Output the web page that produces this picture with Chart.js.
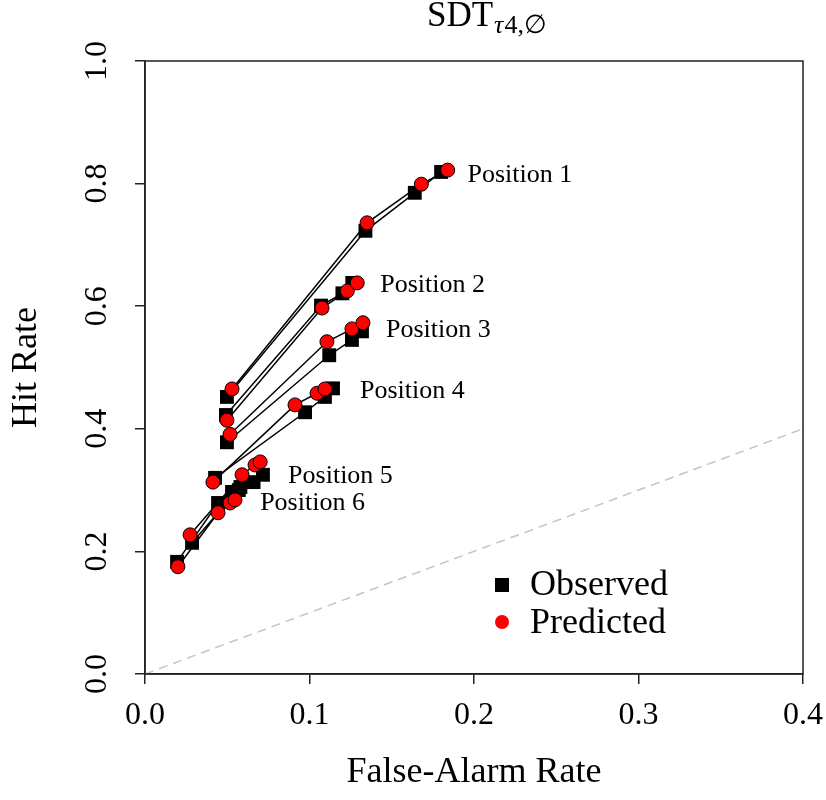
<!DOCTYPE html>
<html>
<head>
<meta charset="utf-8">
<script src="https://cdn.jsdelivr.net/npm/chart.js@4.4.0/dist/chart.umd.min.js"></script>
<style>
  html, body { margin: 0; padding: 0; background: #fff; }
  #canvasDiv { width: 826px; height: 800px; }
</style>
</head>
<body>
<div id="canvasDiv"><canvas id="myChart" width="826" height="800"></canvas></div>
<script>
// labels for every ROC curve
const positions = ['Position 1', 'Position 2', 'Position 3', 'Position 4', 'Position 5', 'Position 6'];

// observed points (false-alarm rate / hit rate), one row per position
const observedFA = [
    [0.0498, 0.134, 0.164, 0.180],
    [0.0492, 0.107, 0.120, 0.126],
    [0.0498, 0.112, 0.1258, 0.1319],
    [0.0426, 0.0973, 0.1094, 0.1143],
    [0.0286, 0.058, 0.066, 0.0717],
    [0.0195, 0.0444, 0.0529, 0.057]
];
const observedHit = [
    [0.452, 0.723, 0.785, 0.819],
    [0.4225, 0.601, 0.621, 0.638],
    [0.378, 0.520, 0.545, 0.559],
    [0.320, 0.427, 0.452, 0.466],
    [0.214, 0.305, 0.313, 0.325],
    [0.183, 0.279, 0.297, 0.300]
];

// model predictions, same layout
const predictedFA = [
    [0.0529, 0.135, 0.168, 0.184],
    [0.0498, 0.1076, 0.123, 0.129],
    [0.0517, 0.1106, 0.1258, 0.1325],
    [0.0413, 0.0912, 0.1046, 0.1094],
    [0.0274, 0.059, 0.0669, 0.070],
    [0.020, 0.0444, 0.0517, 0.0547]
];
const predictedHit = [
    [0.465, 0.736, 0.799, 0.822],
    [0.414, 0.597, 0.625, 0.638],
    [0.391, 0.542, 0.563, 0.573],
    [0.313, 0.439, 0.458, 0.465],
    [0.227, 0.325, 0.341, 0.346],
    [0.175, 0.263, 0.279, 0.284]
];

// where the position names sit (data units, left edge / middle)
const labelFA = [0.196, 0.143, 0.1465, 0.1307, 0.087, 0.070];
const labelHit = [0.814, 0.635, 0.561, 0.462, 0.323, 0.279];

// chance line
const chanceFA = [0, 0.4];
const chanceHit = [0, 0.4];

const xTicks = [0, 0.1, 0.2, 0.3, 0.4];
const yTicks = [0, 0.2, 0.4, 0.6, 0.8, 1.0];

const serif = "'Liberation Serif', 'DejaVu Serif', serif";

function toPoints(xs, ys) {
    return xs.map((x, i) => ({ x: x, y: ys[i] }));
}

let datasets = [];

//dashed diagonal
datasets.push({
    data: toPoints(chanceFA, chanceHit),
    showLine: true,
    borderColor: '#c4c4c4',
    borderWidth: 1.5,
    borderDash: [9, 6],
    pointRadius: 0,
    order: 10
});

//lines first (drawn under every marker), then squares, then circles
for (let i = 0; i < positions.length; i++) {
    datasets.push({
        data: toPoints(observedFA[i], observedHit[i]),
        showLine: true,
        borderColor: '#000',
        borderWidth: 1.5,
        pointRadius: 0,
        order: 5
    });
    datasets.push({
        data: toPoints(predictedFA[i], predictedHit[i]),
        showLine: true,
        borderColor: '#000',
        borderWidth: 1.5,
        pointRadius: 0,
        order: 5
    });
}
for (let i = 0; i < positions.length; i++) {
    datasets.push({
        label: 'Observed',
        data: toPoints(observedFA[i], observedHit[i]),
        showLine: false,
        pointStyle: 'rect',
        pointRadius: 9.8,
        backgroundColor: '#000',
        borderColor: '#000',
        borderWidth: 0,
        order: 2
    });
    datasets.push({
        label: 'Predicted',
        data: toPoints(predictedFA[i], predictedHit[i]),
        showLine: false,
        pointStyle: 'circle',
        pointRadius: 7,
        backgroundColor: '#ff0000',
        borderColor: '#000',
        borderWidth: 1,
        order: 1
    });
}

//box, rotated y labels, position names, legend and title
const extras = {
    id: 'extras',
    afterDraw(chart) {
        const ctx = chart.ctx;
        const area = chart.chartArea;
        const xs = chart.scales.x;
        const ys = chart.scales.y;
        ctx.save();

        ctx.strokeStyle = '#222';
        ctx.lineWidth = 1.5;
        ctx.strokeRect(area.left, area.top, area.right - area.left, area.bottom - area.top);

        //y tick labels, written upwards like R does
        ctx.fillStyle = '#000';
        ctx.font = '32px ' + serif;
        ctx.textAlign = 'center';
        ctx.textBaseline = 'middle';
        yTicks.forEach(v => {
            ctx.save();
            ctx.translate(98, ys.getPixelForValue(v));
            ctx.rotate(-Math.PI / 2);
            ctx.fillText(v.toFixed(1), 0, 0);
            ctx.restore();
        });

        //curve names
        ctx.font = '26px ' + serif;
        ctx.textAlign = 'left';
        positions.forEach((name, i) => {
            ctx.fillText(name, xs.getPixelForValue(labelFA[i]), ys.getPixelForValue(labelHit[i]));
        });

        //legend
        ctx.fillStyle = '#000';
        ctx.fillRect(502 - 7, 585 - 7, 14, 14);
        ctx.fillStyle = '#ff0000';
        ctx.beginPath();
        ctx.arc(502, 622, 7, 0, Math.PI * 2);
        ctx.fill();
        ctx.fillStyle = '#000';
        ctx.font = '36px ' + serif;
        ctx.fillText('Observed', 530, 586);
        ctx.fillText('Predicted', 530, 624);

        //title SDT with subscript
        ctx.textBaseline = 'alphabetic';
        let tx = 427;
        ctx.font = '35px ' + serif;
        ctx.fillText('SDT', tx, 26);
        tx += ctx.measureText('SDT').width + 1;
        ctx.font = 'italic 26px ' + serif;
        ctx.fillText('\u03C4', tx, 33);
        tx += ctx.measureText('\u03C4').width + 1;
        ctx.font = '26px ' + serif;
        ctx.fillText('4,\u2205', tx, 33);

        ctx.restore();
    }
};

const config = {
    type: 'scatter',
    data: { datasets: datasets },
    options: {
        responsive: false,
        animation: false,
        devicePixelRatio: 1,
        layout: { padding: { left: 0, right: 23, top: 61, bottom: 0 } },
        plugins: {
            legend: { display: false },
            tooltip: { enabled: false }
        },
        scales: {
            x: {
                type: 'linear',
                min: 0,
                max: 0.4,
                afterBuildTicks: (scale) => { scale.ticks = xTicks.map(v => ({ value: v })); },
                afterFit: (scale) => {
                    scale.height = 126;
                    scale.paddingLeft = 0;
                    scale.paddingRight = 0;
                },
                ticks: {
                    color: '#000',
                    font: { family: serif, size: 32 },
                    padding: 12,
                    maxRotation: 0,
                    callback: (v) => Number(v).toFixed(1)
                },
                grid: { drawOnChartArea: false, drawTicks: true, tickLength: 10, color: '#222', lineWidth: 1.5 },
                border: { display: true, color: '#222', width: 1.5 },
                title: {
                    display: true,
                    text: 'False-Alarm Rate',
                    color: '#000',
                    font: { family: serif, size: 36 },
                    padding: { top: 0, bottom: 6 }
                }
            },
            y: {
                type: 'linear',
                min: 0,
                max: 1,
                afterBuildTicks: (scale) => { scale.ticks = yTicks.map(v => ({ value: v })); },
                afterFit: (scale) => {
                    scale.width = 145;
                    scale.paddingTop = 0;
                    scale.paddingBottom = 0;
                },
                ticks: { display: false },
                grid: { drawOnChartArea: false, drawTicks: true, tickLength: 10, color: '#222', lineWidth: 1.5 },
                border: { display: true, color: '#222', width: 1.5 },
                title: {
                    display: true,
                    text: 'Hit Rate',
                    color: '#000',
                    font: { family: serif, size: 36 },
                    padding: { top: 5, bottom: 0 }
                }
            }
        }
    },
    plugins: [extras]
};

let rocChart = new Chart(document.getElementById('myChart'), config);
</script>
</body>
</html>
